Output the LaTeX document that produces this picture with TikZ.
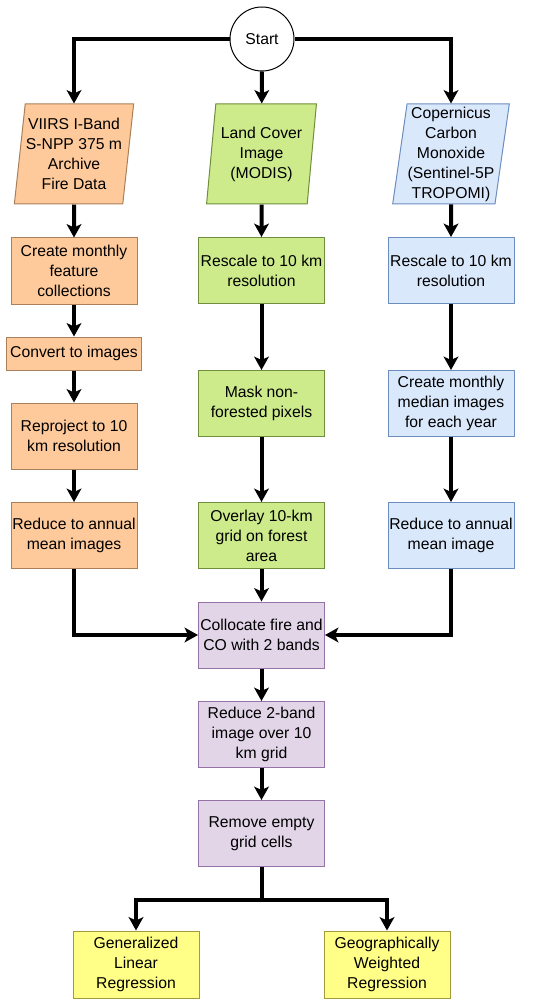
\documentclass[tikz,border=0pt]{standalone}
\usepackage{fontspec}
\setmainfont{Liberation Sans}
\definecolor{FireFill}{HTML}{FFCA9B}
\definecolor{FireLine}{HTML}{A9805A}
\definecolor{LandFill}{HTML}{CDEB8B}
\definecolor{LandLine}{HTML}{6F8F3C}
\definecolor{COFill}{HTML}{DAE8FC}
\definecolor{COLine}{HTML}{6C8EBF}
\definecolor{JoinFill}{HTML}{E1D5E7}
\definecolor{JoinLine}{HTML}{9673A6}
\definecolor{ModelFill}{HTML}{FFFF88}
\definecolor{ModelLine}{HTML}{A39A3C}
\usetikzlibrary{arrows.meta, positioning, shapes.geometric}

\begin{document}
\begin{tikzpicture}[x=0.75pt, y=-0.75pt,
    every node/.style={font=\fontsize{11.8}{15}\selectfont, align=center, line width=0.75pt},
    flow/.style={line width=3pt, -{Stealth[length=10pt, width=11pt, inset=2.5pt]}},
    link/.style={line width=3pt},
    procbox/.style={rectangle, draw, minimum width=94.5pt, minimum height=49.5pt, inner sep=0.5pt},
    databox/.style={trapezium, draw, trapezium left angle=81.5, trapezium right angle=98.5,
      trapezium stretches=true, minimum width=82.5pt, minimum height=75pt, inner sep=0.5pt}]
  \useasboundingbox (0,0) rectangle (550,1005);
  % Start
  \node[circle, draw, minimum size=48pt, inner sep=0pt] (start) at (262,39) {Start};
  % Input data
  \node[databox, fill=FireFill, draw=FireLine] (fire) at (74,154)
    {VIIRS I-Band\\S-NPP 375 m\\Archive\\Fire Data};
  \node[databox, fill=LandFill, draw=LandLine] (land) at (261.5,154)
    {Land Cover\\Image\\(MODIS)};
  \node[databox, fill=COFill, draw=COLine] (co) at (451,154)
    {Copernicus\\Carbon\\Monoxide\\(Sentinel-5P\\TROPOMI)};
  % Fire branch
  \node[procbox, fill=FireFill, draw=FireLine] (firemonth) at (74,271)
    {Create monthly\\feature\\collections};
  \node[procbox, fill=FireFill, draw=FireLine, minimum width=101pt, minimum height=24.75pt]
    (fireimg) at (74,353.5) {Convert to images};
  \node[procbox, fill=FireFill, draw=FireLine] (fireproj) at (74,436)
    {Reproject to 10\\km resolution};
  \node[procbox, fill=FireFill, draw=FireLine] (firemean) at (74,535.5)
    {Reduce to annual\\mean images};
  % Land cover branch
  \node[procbox, fill=LandFill, draw=LandLine] (landscale) at (261.5,270.5)
    {Rescale to 10 km\\resolution};
  \node[procbox, fill=LandFill, draw=LandLine] (landmask) at (261.5,403.5)
    {Mask non-\\forested pixels};
  \node[procbox, fill=LandFill, draw=LandLine] (landgrid) at (261.5,535.5)
    {Overlay 10-km\\grid on forest\\area};
  % CO branch
  \node[procbox, fill=COFill, draw=COLine] (coscale) at (451,270.5)
    {Rescale to 10 km\\resolution};
  \node[procbox, fill=COFill, draw=COLine] (comonth) at (451,403.5)
    {Create monthly\\median images\\for each year};
  \node[procbox, fill=COFill, draw=COLine] (comean) at (451,535.5)
    {Reduce to annual\\mean image};
  % Merged steps
  \node[procbox, fill=JoinFill, draw=JoinLine] (colloc) at (261.5,635)
    {Collocate fire and\\CO with 2 bands};
  \node[procbox, fill=JoinFill, draw=JoinLine] (reduce) at (261.5,734.5)
    {Reduce 2-band\\image over 10\\km grid};
  \node[procbox, fill=JoinFill, draw=JoinLine] (clean) at (261.5,833.5)
    {Remove empty\\grid cells};
  % Models
  \node[procbox, fill=ModelFill, draw=ModelLine, minimum height=50.25pt] (glr) at (136,964.5)
    {Generalized\\Linear\\Regression};
  \node[procbox, fill=ModelFill, draw=ModelLine, minimum height=50.25pt] (gwr) at (387,964.5)
    {Geographically\\Weighted\\Regression};
  % Connectors
  \draw[flow] (start) -| (fire);
  \draw[flow] (start) -- (land);
  \draw[flow] (start) -| (co);
  \draw[flow] (fire) -- (firemonth);
  \draw[flow] (firemonth) -- (fireimg);
  \draw[flow] (fireimg) -- (fireproj);
  \draw[flow] (fireproj) -- (firemean);
  \draw[flow] (land) -- (landscale);
  \draw[flow] (landscale) -- (landmask);
  \draw[flow] (landmask) -- (landgrid);
  \draw[flow] (co) -- (coscale);
  \draw[flow] (coscale) -- (comonth);
  \draw[flow] (comonth) -- (comean);
  \draw[flow] (firemean) |- (colloc);
  \draw[flow] (landgrid) -- (colloc);
  \draw[flow] (comean) |- (colloc);
  \draw[flow] (colloc) -- (reduce);
  \draw[flow] (reduce) -- (clean);
  \draw[link] (clean.south) -- ++(0,33) coordinate (split);
  \draw[flow] (split) -| (glr);
  \draw[flow] (split) -| (gwr);
\end{tikzpicture}
\end{document}
